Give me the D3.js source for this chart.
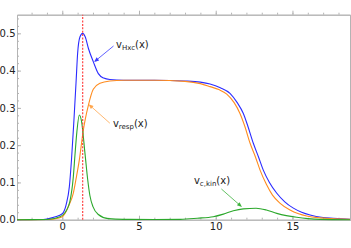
<!DOCTYPE html>
<html>
<head>
<meta charset="utf-8">
<script src="https://cdn.jsdelivr.net/npm/d3@7"></script>
<style>
  body { margin: 0; background: #fff; }
  text { font-family: "DejaVu Sans", sans-serif; }
</style>
</head>
<body>
<div id="chart"></div>
<script>
// curves: [x, value]
var vHxc = [
  [-2.95, 0], [-1.5, 0.0005], [-1, 0.002], [-0.5, 0.007], [0, 0.016], [0.25, 0.04],
  [0.46, 0.088], [0.6, 0.16], [0.76, 0.267], [0.9, 0.37], [1.0, 0.446], [1.15, 0.49],
  [1.33, 0.5], [1.5, 0.49], [1.7, 0.46], [2.02, 0.424], [2.35, 0.392], [2.7, 0.38],
  [3.1, 0.376], [4, 0.374], [6, 0.374], [8, 0.372], [9, 0.369], [9.63, 0.364],
  [10.3, 0.354], [10.93, 0.339], [11.4, 0.314], [11.8, 0.285], [12.1, 0.25],
  [12.45, 0.205], [12.8, 0.167], [13.1, 0.133], [13.5, 0.1], [13.98, 0.071],
  [14.5, 0.048], [15.06, 0.031], [15.6, 0.02], [16.15, 0.0126], [17, 0.006],
  [17.65, 0.004], [18.75, 0.001]
];
var vResp = [
  [-2.95, 0], [-1, 0.0005], [-0.5, 0.002], [0, 0.008], [0.18, 0.017], [0.45, 0.04],
  [0.72, 0.071], [0.9, 0.11], [1.11, 0.16], [1.37, 0.24], [1.5, 0.27], [1.7, 0.307],
  [2.02, 0.35], [2.46, 0.366], [3.1, 0.372], [4, 0.374], [6, 0.374], [8, 0.371],
  [9, 0.365], [9.63, 0.357], [10.2, 0.349], [10.72, 0.337], [11.2, 0.314],
  [11.58, 0.285], [11.9, 0.25], [12.24, 0.205], [12.6, 0.167], [12.89, 0.133],
  [13.3, 0.095], [13.7, 0.066], [14.2, 0.044], [14.84, 0.026], [15.4, 0.016],
  [15.93, 0.01], [16.8, 0.005], [17.5, 0.003], [18.75, 0.001]
];
var vCkin = [
  [-2.95, 0], [-1, 0.0005], [-0.15, 0.008], [0.2, 0.02], [0.39, 0.035], [0.5, 0.05],
  [0.72, 0.115], [0.83, 0.175], [0.95, 0.235], [1.11, 0.281], [1.25, 0.265],
  [1.48, 0.178], [1.65, 0.11], [1.8, 0.065], [2.0, 0.035], [2.35, 0.014], [3.0, 0.003],
  [4, 0.001], [6, 0.0005], [7.7, 0.001], [8.8, 0.004], [9.84, 0.008], [10.5, 0.015],
  [11.15, 0.024], [11.8, 0.029], [12.63, 0.0306], [13.3, 0.026], [13.98, 0.017],
  [14.6, 0.011], [15.28, 0.0064], [16, 0.003], [16.8, 0.001], [18.75, 0]
];
var markerX = 1.33;

var xTicks = [0, 5, 10, 15];
var yTicks = [0, 0.1, 0.2, 0.3, 0.4, 0.5];

var svgWidth = 351;
var svgHeight = 248;

var svg = d3.select("#chart")
  .append("svg")
  .attr("width", svgWidth)
  .attr("height", svgHeight);

var xScale = d3.scaleLinear().domain([-2.95, 18.75]).range([17, 350]);
var yScale = d3.scaleLinear().domain([0, 0.55]).range([219.7, 14.7]);

var frameColor = "#b4b4b4";
var minorX = d3.range(-2, 19, 1);
var minorY = d3.range(0, 0.551, 0.02);

function styleAxis(g) {
  g.select(".domain").attr("stroke", frameColor).attr("stroke-width", 1);
  g.selectAll(".tick line").attr("stroke", frameColor);
  g.selectAll(".tick text").attr("fill", "#222")
    .style("font-size", "10px").style("font-family", "DejaVu Sans, sans-serif");
}

// major + minor ticks on all four sides
[["bottom", d3.axisBottom, 219.7], ["top", d3.axisTop, 14.7]].forEach(function(s) {
  var labels = s[0] === "bottom";
  svg.append("g")
    .attr("transform", `translate(0, ${s[2]})`)
    .call(s[1](xScale).tickValues(minorX).tickSize(labels ? -2 : 2).tickSizeOuter(0).tickFormat(""))
    .call(styleAxis);
  svg.append("g")
    .attr("transform", `translate(0, ${s[2]})`)
    .call(s[1](xScale).tickValues(xTicks).tickSize(labels ? -4 : 4).tickSizeOuter(0)
      .tickPadding(3.5).tickFormat(labels ? d3.format("d") : ""))
    .call(styleAxis);
});
[["left", d3.axisLeft, 17], ["right", d3.axisRight, 350]].forEach(function(s) {
  var labels = s[0] === "left";
  svg.append("g")
    .attr("transform", `translate(${s[2]}, 0)`)
    .call(s[1](yScale).tickValues(minorY).tickSize(labels ? -2 : 2).tickSizeOuter(0).tickFormat(""))
    .call(styleAxis);
  svg.append("g")
    .attr("transform", `translate(${s[2]}, 0)`)
    .call(s[1](yScale).tickValues(yTicks).tickSize(labels ? -4 : 4).tickSizeOuter(0)
      .tickPadding(1.5).tickFormat(labels ? d3.format(".1f") : ""))
    .call(styleAxis);
});

var line = d3.line()
  .x(d => xScale(d[0]))
  .y(d => yScale(d[1]))
  .curve(d3.curveMonotoneX);

var plot = svg.append("g");

plot.append("path").datum(vHxc)
  .attr("d", line).attr("fill", "none").attr("stroke", "#2b2bff").attr("stroke-width", 1.1);
plot.append("path").datum(vResp)
  .attr("d", line).attr("fill", "none").attr("stroke", "#ff8c1f").attr("stroke-width", 1.1);
plot.append("path").datum(vCkin)
  .attr("d", line).attr("fill", "none").attr("stroke", "#2ca82c").attr("stroke-width", 1.1);

// dashed marker line
plot.append("line")
  .attr("x1", xScale(markerX)).attr("x2", xScale(markerX))
  .attr("y1", yScale(0)).attr("y2", yScale(0.55))
  .attr("stroke", "#ff4444")
  .attr("stroke-width", 1.2)
  .attr("stroke-dasharray", "2,1.4");

// labels with arrows
var notes = [
  { sub: "Hxc", at: [3.5, 0.461], from: [3.34, 0.466], to: [2.07, 0.423], color: "#3a3aff" },
  { sub: "resp", at: [3.3, 0.249], from: [3.1, 0.259], to: [1.71, 0.31], color: "#ffa64d" },
  { sub: "c,kin", at: [8.58, 0.0958], from: [10.37, 0.0824], to: [11.71, 0.034], color: "#3db23d" }
];

notes.forEach(function(n) {
  var x1 = xScale(n.from[0]), y1 = yScale(n.from[1]);
  var x2 = xScale(n.to[0]), y2 = yScale(n.to[1]);
  var ang = Math.atan2(y2 - y1, x2 - x1);
  var len = 5, half = 2;
  svg.append("line")
    .attr("x1", x1).attr("y1", y1)
    .attr("x2", x2 - Math.cos(ang) * len * 0.8).attr("y2", y2 - Math.sin(ang) * len * 0.8)
    .attr("stroke", n.color).attr("stroke-width", 0.8);
  var bx = x2 - Math.cos(ang) * len, by = y2 - Math.sin(ang) * len;
  svg.append("path")
    .attr("d", `M${x2},${y2}L${bx - Math.sin(ang) * half},${by + Math.cos(ang) * half}L${bx + Math.sin(ang) * half},${by - Math.cos(ang) * half}Z`)
    .attr("fill", n.color);

  var t = svg.append("text")
    .attr("x", xScale(n.at[0]))
    .attr("y", yScale(n.at[1]))
    .attr("fill", "#222")
    .style("font-size", "10px");
  t.append("tspan").text("v");
  t.append("tspan").attr("dy", 2.5).style("font-size", "7px").text(n.sub);
  t.append("tspan").attr("dy", -2.5).text("(x)");
});
</script>
</body>
</html>
